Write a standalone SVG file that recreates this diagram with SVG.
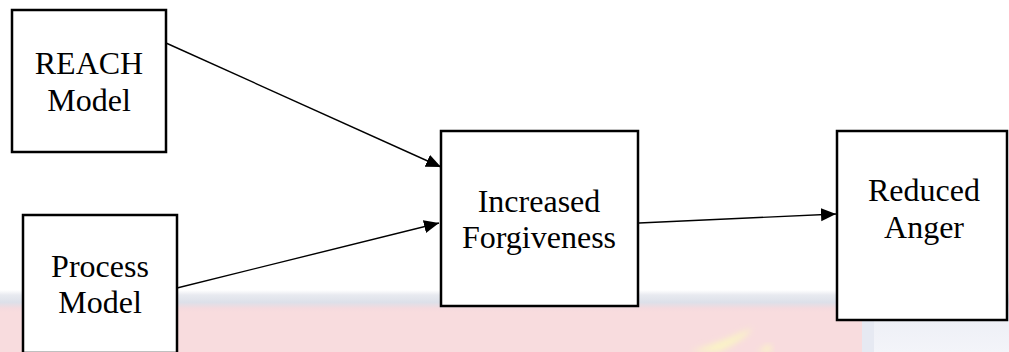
<svg xmlns="http://www.w3.org/2000/svg" width="1009" height="352" viewBox="0 0 1009 352">
  <style>
    .box { fill: #ffffff; stroke: #000000; stroke-width: 2.5; }
    .lbl { font-family: "Liberation Serif", "Times New Roman", serif; font-size: 32px; fill: #000000; text-anchor: middle; }
    .edge { stroke: #000000; stroke-width: 1.4; fill: none; marker-end: url(#arrow); }
  </style>
  <defs>
    <marker id="arrow" markerUnits="userSpaceOnUse" markerWidth="16" markerHeight="14" refX="15" refY="6.5" orient="auto">
      <path d="M0,0 L15,6.5 L0,13 z" fill="#000000"/>
    </marker>
    <linearGradient id="bgL" x1="0" y1="0" x2="0" y2="1">
      <stop offset="0" stop-color="#ffffff"/>
      <stop offset="0.08" stop-color="#e8eaf0"/>
      <stop offset="0.2" stop-color="#dde0e9"/>
      <stop offset="0.3" stop-color="#f5dade"/>
      <stop offset="0.36" stop-color="#f8dcde"/>
      <stop offset="1" stop-color="#f8dcde"/>
    </linearGradient>
    <linearGradient id="bgR" x1="0" y1="0" x2="0" y2="1">
      <stop offset="0" stop-color="#ffffff"/>
      <stop offset="0.08" stop-color="#e8eaf0"/>
      <stop offset="0.2" stop-color="#dde0e9"/>
      <stop offset="0.3" stop-color="#eceef5"/>
      <stop offset="1" stop-color="#f3f4f9"/>
    </linearGradient>
    <filter id="soft" x="-20%" y="-20%" width="140%" height="140%">
      <feGaussianBlur stdDeviation="3"/>
    </filter>
  </defs>

  <rect x="0" y="0" width="1009" height="352" fill="#ffffff"/>
  <rect x="0" y="290" width="863" height="62" fill="url(#bgL)"/>
  <rect x="863" y="290" width="146" height="62" fill="url(#bgR)"/>
  <rect x="862" y="305" width="12" height="47" fill="#e6e9f2"/>
  <path d="M752,328 C735,336 715,344 690,352 L718,352 C735,344 748,336 752,328 z" fill="#faf5c4" filter="url(#soft)"/>
  <path d="M770,344 C765,347 760,350 757,352 L772,352 z" fill="#faf5c4" filter="url(#soft)"/>

  <g id="connectors">
    <line class="edge" x1="166" y1="43" x2="441" y2="167"/>
    <line class="edge" x1="177" y1="288" x2="439" y2="223"/>
    <line class="edge" x1="639" y1="223" x2="836" y2="214"/>
  </g>

  <g id="reach">
    <rect class="box" x="12" y="10" width="154" height="142"/>
    <text class="lbl" x="89" y="74">REACH</text>
    <text class="lbl" x="89" y="111">Model</text>
  </g>

  <g id="process">
    <rect class="box" x="23" y="215" width="154" height="138"/>
    <text class="lbl" x="100" y="277">Process</text>
    <text class="lbl" x="100" y="313">Model</text>
  </g>

  <g id="forgiveness">
    <rect class="box" x="441" y="131" width="197" height="175"/>
    <text class="lbl" x="539" y="212">Increased</text>
    <text class="lbl" x="539" y="248">Forgiveness</text>
  </g>

  <g id="anger">
    <rect class="box" x="837" y="131" width="170" height="189"/>
    <text class="lbl" x="924" y="201">Reduced</text>
    <text class="lbl" x="924" y="238">Anger</text>
  </g>
</svg>
